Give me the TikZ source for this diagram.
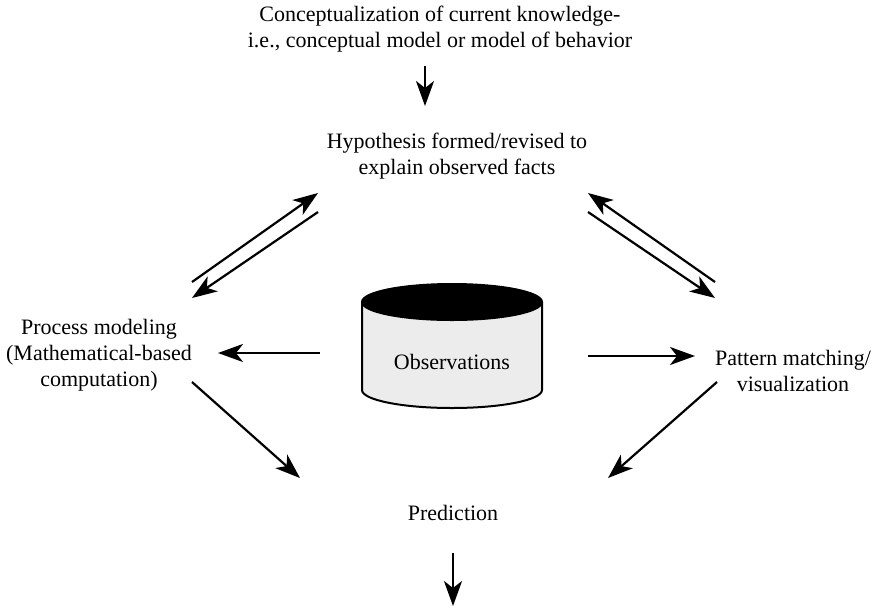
\documentclass[tikz,border=0pt]{standalone}
\usepackage{fontspec}
\setmainfont{Liberation Serif}
\usetikzlibrary{arrows.meta}
\begin{document}
\begin{tikzpicture}[x=1pt,y=-1pt,
  label text/.style={align=center,font=\fontsize{22}{26}\selectfont,inner sep=0pt},
  flow/.style={line width=2.2pt,-{Stealth[length=25pt,width=18pt,inset=7pt]}},
  drum/.style={line width=2pt}]
\useasboundingbox (0,0) rectangle (882,611);

% text blocks
\node[label text] (concept) at (440,29) {Conceptualization of current knowledge-\\i.e., conceptual model or model of behavior};
\node[label text] (hypo) at (457,156) {Hypothesis formed/revised to\\explain observed facts};
\node[label text] (process) at (99,355) {Process modeling\\(Mathematical-based\\computation)};
\node[label text] (pattern) at (793,371) {Pattern matching/\\visualization};
\node[label text] (pred) at (453,513) {Prediction};

% observations drum
\fill[gray!15] (362,302) -- (362,390) arc[start angle=180,end angle=0,x radius=90,y radius=18] -- (542,302) -- cycle;
\draw[drum] (362,302) -- (362,390) arc[start angle=180,end angle=0,x radius=90,y radius=18] -- (542,302);
\draw[drum,fill=black] (452,302) ellipse[x radius=90,y radius=18];
\node[label text] (obs) at (452,362) {Observations};

% free arrow ends
\coordinate (c1) at (425,66);
\coordinate (c2) at (425,106);
\coordinate (lu1) at (192,282);
\coordinate (lu2) at (318,193);
\coordinate (ld1) at (318,212);
\coordinate (ld2) at (192,298);
\coordinate (ru1) at (715,282);
\coordinate (ru2) at (588,193);
\coordinate (rd1) at (588,212);
\coordinate (rd2) at (715,298);
\coordinate (ml1) at (320,353);
\coordinate (ml2) at (218,353);
\coordinate (mr1) at (588,356);
\coordinate (mr2) at (695,356);
\coordinate (bl1) at (192,382);
\coordinate (bl2) at (300,478);
\coordinate (br1) at (717,382);
\coordinate (br2) at (608,478);
\coordinate (p1) at (453,553);
\coordinate (p2) at (453,606);

\draw[flow] (c1) -- (c2);
\draw[flow] (lu1) -- (lu2);
\draw[flow] (ld1) -- (ld2);
\draw[flow] (ru1) -- (ru2);
\draw[flow] (rd1) -- (rd2);
\draw[flow] (ml1) -- (ml2);
\draw[flow] (mr1) -- (mr2);
\draw[flow] (bl1) -- (bl2);
\draw[flow] (br1) -- (br2);
\draw[flow] (p1) -- (p2);
\end{tikzpicture}
\end{document}
